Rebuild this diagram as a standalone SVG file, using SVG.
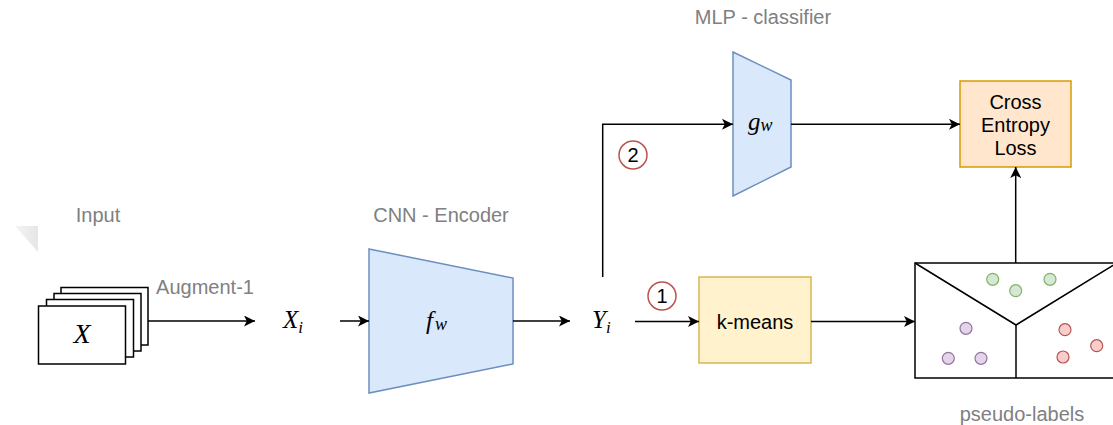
<svg xmlns="http://www.w3.org/2000/svg" width="1113" height="425" viewBox="0 0 1113 425">
  <defs>
    <marker id="arrow" viewBox="0 0 10 10" refX="10" refY="5" markerWidth="11" markerHeight="11" markerUnits="userSpaceOnUse" orient="auto">
      <path d="M0,0 L10,5 L0,10 L2.5,5 Z" fill="#000"/>
    </marker>
    <linearGradient id="fade" x1="0" y1="0" x2="1" y2="0">
      <stop offset="0" stop-color="#f4f4f4"/>
      <stop offset="1" stop-color="#e6e6e6"/>
    </linearGradient>
    <style>
      .label { font-family: "Liberation Sans", Arial, sans-serif; font-size: 20px; fill: #808080; }
      .txt { font-family: "Liberation Sans", Arial, sans-serif; font-size: 20px; fill: #000; }
      .math { font-family: "Liberation Serif", "Times New Roman", serif; font-style: italic; fill: #000; }
      .sheet { fill: #fff; stroke: #000; stroke-width: 1.5; }
      .trap { fill: #dae8fc; stroke: #6c8ebf; stroke-width: 1.5; }
      .edge { fill: none; stroke: #000; stroke-width: 1.5; }
      .step { fill: #fff; stroke: #b85450; stroke-width: 1.5; }
      .green { fill: #d5e8d4; stroke: #82b366; stroke-width: 1.2; }
      .purple { fill: #e1d5e7; stroke: #9673a6; stroke-width: 1.2; }
      .red { fill: #f8cecc; stroke: #b85450; stroke-width: 1.2; }
    </style>
  </defs>

  <rect width="1113" height="425" fill="#fff"/>

  <!-- faint corner mark -->
  <polygon points="15,226 38,226 38,252" fill="url(#fade)"/>

  <!-- free labels -->
  <text class="label" x="98" y="222" text-anchor="middle">Input</text>
  <text class="label" x="205" y="294" text-anchor="middle">Augment-1</text>
  <text class="label" x="441" y="222" text-anchor="middle">CNN - Encoder</text>
  <text class="label" x="763" y="24" text-anchor="middle">MLP - classifier</text>
  <text class="label" x="1022" y="421" text-anchor="middle">pseudo-labels</text>

  <!-- input image stack -->
  <g id="input">
    <rect class="sheet" x="61" y="287.5" width="87" height="57.5"/>
    <rect class="sheet" x="54" y="293.5" width="87" height="57.5"/>
    <rect class="sheet" x="46.5" y="299.5" width="87" height="57.5"/>
    <rect class="sheet" x="38.5" y="306" width="87" height="58"/>
    <text class="math" x="82" y="343" font-size="28" text-anchor="middle">X</text>
  </g>

  <g id="xi">
    <text class="math" x="283" y="328" font-size="25">X<tspan font-size="17" dy="5">i</tspan></text>
  </g>

  <g id="encoder">
    <polygon class="trap" points="369,249 513,278 513,364 369,393"/>
    <text class="math" x="426" y="329" font-size="25">f<tspan font-size="18" dx="2" dy="1">w</tspan></text>
  </g>

  <g id="yi">
    <text class="math" x="592" y="328" font-size="25">Y<tspan font-size="17" dy="5">i</tspan></text>
  </g>

  <g id="classifier">
    <polygon class="trap" points="733,52 791,80 791,167 733,196"/>
    <text class="math" x="748" y="130" font-size="25">g<tspan font-size="18" dy="1">w</tspan></text>
  </g>

  <g id="kmeans">
    <rect x="699" y="277" width="112" height="86" fill="#fff2cc" stroke="#d6b656" stroke-width="1.5"/>
    <text class="txt" x="755" y="329" text-anchor="middle">k-means</text>
  </g>

  <g id="loss">
    <rect x="960" y="81" width="111" height="86" fill="#ffe6cc" stroke="#d79b00" stroke-width="1.5"/>
    <text class="txt" x="1015.5" y="109" text-anchor="middle">Cross</text>
    <text class="txt" x="1015.5" y="132" text-anchor="middle">Entropy</text>
    <text class="txt" x="1015.5" y="155" text-anchor="middle">Loss</text>
  </g>

  <g id="pseudo-labels">
    <rect x="915" y="263" width="202" height="115" fill="#fff" stroke="#000" stroke-width="1.5"/>
    <polyline class="edge" points="915,263 1016,325 1117,263"/>
    <line class="edge" x1="1016" y1="325" x2="1016" y2="378"/>
    <circle class="green" cx="992.7" cy="279.3" r="6"/>
    <circle class="green" cx="1015.7" cy="290.7" r="6"/>
    <circle class="green" cx="1050" cy="279.3" r="6"/>
    <circle class="purple" cx="966" cy="328.3" r="6"/>
    <circle class="purple" cx="948.3" cy="358.3" r="6"/>
    <circle class="purple" cx="981" cy="358.3" r="6"/>
    <circle class="red" cx="1065" cy="329.7" r="6"/>
    <circle class="red" cx="1096.7" cy="345.7" r="6"/>
    <circle class="red" cx="1063" cy="357" r="6"/>
  </g>

  <g id="step-1">
    <circle class="step" cx="662" cy="296" r="14"/>
    <text class="txt" x="662" y="303" text-anchor="middle">1</text>
  </g>
  <g id="step-2">
    <circle class="step" cx="633" cy="155" r="14"/>
    <text class="txt" x="633" y="162" text-anchor="middle">2</text>
  </g>

  <g id="connectors">
    <line class="edge" x1="148" y1="321" x2="255" y2="321" marker-end="url(#arrow)"/>
    <line class="edge" x1="340" y1="321" x2="369" y2="321" marker-end="url(#arrow)"/>
    <line class="edge" x1="513" y1="321" x2="570" y2="321" marker-end="url(#arrow)"/>
    <polyline class="edge" points="602.7,277 602.7,124.3 733,124.3" marker-end="url(#arrow)"/>
    <line class="edge" x1="635" y1="321.5" x2="699" y2="321.5" marker-end="url(#arrow)"/>
    <line class="edge" x1="811" y1="321.5" x2="915" y2="321.5" marker-end="url(#arrow)"/>
    <line class="edge" x1="791" y1="124.3" x2="960" y2="124.3" marker-end="url(#arrow)"/>
    <line class="edge" x1="1015.7" y1="263" x2="1015.7" y2="167" marker-end="url(#arrow)"/>
  </g>
</svg>
